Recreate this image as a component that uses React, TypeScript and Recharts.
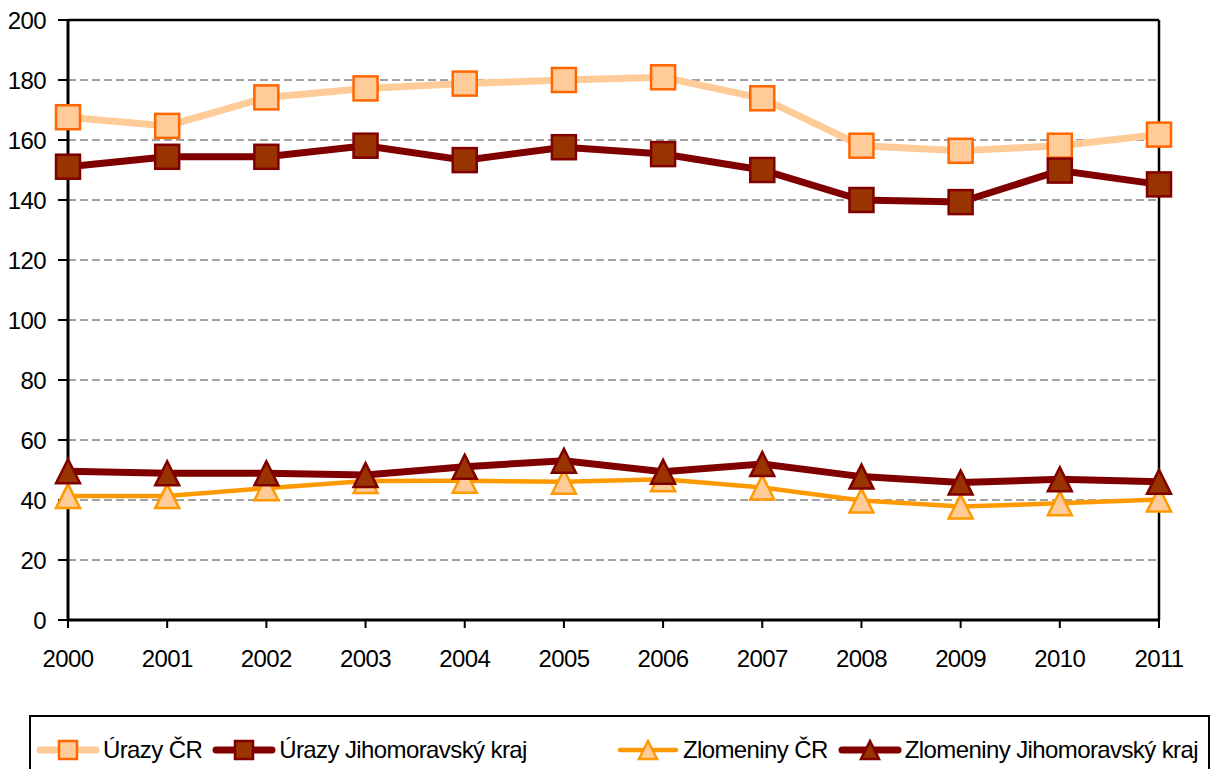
import { LineChart, Line, XAxis, YAxis, CartesianGrid, ReferenceLine } from 'recharts';

const years = ['2000', '2001', '2002', '2003', '2004', '2005', '2006', '2007', '2008', '2009', '2010', '2011'];
const urazyCR = [167.6, 164.7, 174.2, 177.2, 178.8, 180.0, 180.9, 173.9, 158.1, 156.4, 158.1, 161.8];
const urazyJMK = [151.1, 154.4, 154.4, 158.1, 153.3, 157.6, 155.3, 150.0, 140.0, 139.3, 149.8, 145.2];
const zlomCR = [41.3, 41.3, 43.9, 46.3, 46.4, 46.1, 46.9, 44.2, 39.8, 37.8, 38.9, 40.2];
const zlomJMK = [49.6, 48.9, 48.9, 48.3, 51.1, 53.1, 49.4, 52.0, 47.8, 45.8, 46.9, 46.1];
const yTicks = [0, 20, 40, 60, 80, 100, 120, 140, 160, 180, 200];

const data = years.map((y, i) => ({
  year: y,
  urazyCR: urazyCR[i],
  urazyJMK: urazyJMK[i],
  zlomCR: zlomCR[i],
  zlomJMK: zlomJMK[i],
}));

const FONT = '"Liberation Sans", Arial, sans-serif';
const tickStyle = { fill: '#000', fontSize: 24, fontFamily: FONT, letterSpacing: -0.6 };

type Series = {
  key: string;
  name: string;
  line: string;
  width: number;
  fill: string;
  edge: string;
  shape: 'square' | 'triangle';
};

const series: Series[] = [
  { key: 'urazyCR', name: 'Úrazy ČR', line: '#FFCC99', width: 7, fill: '#FFCC99', edge: '#FF6600', shape: 'square' },
  { key: 'urazyJMK', name: 'Úrazy Jihomoravský kraj', line: '#800000', width: 7, fill: '#993300', edge: '#800000', shape: 'square' },
  { key: 'zlomCR', name: 'Zlomeniny ČR', line: '#FF9900', width: 4.5, fill: '#FFCC99', edge: '#FF9900', shape: 'triangle' },
  { key: 'zlomJMK', name: 'Zlomeniny Jihomoravský kraj', line: '#800000', width: 7, fill: '#993300', edge: '#800000', shape: 'triangle' },
];

function Marker({ cx, cy, s, half }: { cx: number; cy: number; s: Series; half: number }) {
  if (s.shape === 'square') {
    return (
      <rect x={cx - half} y={cy - half} width={half * 2} height={half * 2}
        fill={s.fill} stroke={s.edge} strokeWidth={2.5} />
    );
  }
  const pts = `${cx},${cy - half} ${cx - half},${cy + half} ${cx + half},${cy + half}`;
  return <polygon points={pts} fill={s.fill} stroke={s.edge} strokeWidth={2.5} strokeLinejoin="miter" />;
}

function LegendItem({ s }: { s: Series }) {
  return (
    <div style={{ display: 'flex', alignItems: 'center', marginRight: 10 }}>
      <svg width={64} height={24}>
        <line x1={4} y1={12} x2={60} y2={12} stroke={s.line} strokeWidth={s.width} strokeLinecap="round" />
        <Marker cx={32} cy={12} s={s} half={9} />
      </svg>
      <span style={{ marginLeft: 3, fontFamily: FONT, fontSize: 24, letterSpacing: -0.6, color: '#000', whiteSpace: 'nowrap' }}>
        {s.name}
      </span>
    </div>
  );
}

export default function App() {
  return (
    <div style={{ position: 'absolute', left: 0, top: 0, width: 1218, height: 769, overflow: 'hidden', background: '#fff' }}>
      <LineChart width={1218} height={769} data={data} margin={{ top: 20, right: 59, bottom: 99, left: 0 }}>
        <CartesianGrid vertical={false} stroke="#444" strokeDasharray="8 4" strokeWidth={1} />
        <XAxis
          dataKey="year"
          height={50}
          axisLine={{ stroke: '#000', strokeWidth: 3 }}
          tickLine={{ stroke: '#000', strokeWidth: 2 }}
          tickSize={8}
          tickMargin={22}
          tick={tickStyle}
          interval={0}
        />
        <YAxis
          width={68}
          domain={[0, 200]}
          ticks={yTicks}
          axisLine={{ stroke: '#000', strokeWidth: 3 }}
          tickLine={{ stroke: '#000', strokeWidth: 2 }}
          tickSize={10}
          tickMargin={12}
          tick={tickStyle}
        />
        <ReferenceLine y={200} stroke="#000" strokeWidth={2.5} />
        <ReferenceLine x="2011" stroke="#000" strokeWidth={2.5} />
        {series.map((s) => (
          <Line
            key={s.key}
            dataKey={s.key}
            name={s.name}
            type="linear"
            stroke={s.line}
            strokeWidth={s.width}
            isAnimationActive={false}
            activeDot={false}
            dot={(p: any) => <Marker key={`${s.key}-${p.index}`} cx={p.cx} cy={p.cy} s={s} half={12} />}
          />
        ))}
      </LineChart>
      <div
        style={{
          position: 'absolute',
          left: 29,
          top: 715,
          width: 1181,
          height: 60,
          border: '2px solid #000',
          display: 'flex',
          boxSizing: 'border-box',
        }}
      >
        <div style={{ width: 590, display: 'flex', paddingLeft: 5, paddingTop: 9 }}>
          <LegendItem s={series[0]} />
          <LegendItem s={series[1]} />
        </div>
        <div style={{ display: 'flex', paddingTop: 9 }}>
          <LegendItem s={series[2]} />
          <LegendItem s={series[3]} />
        </div>
      </div>
    </div>
  );
}
